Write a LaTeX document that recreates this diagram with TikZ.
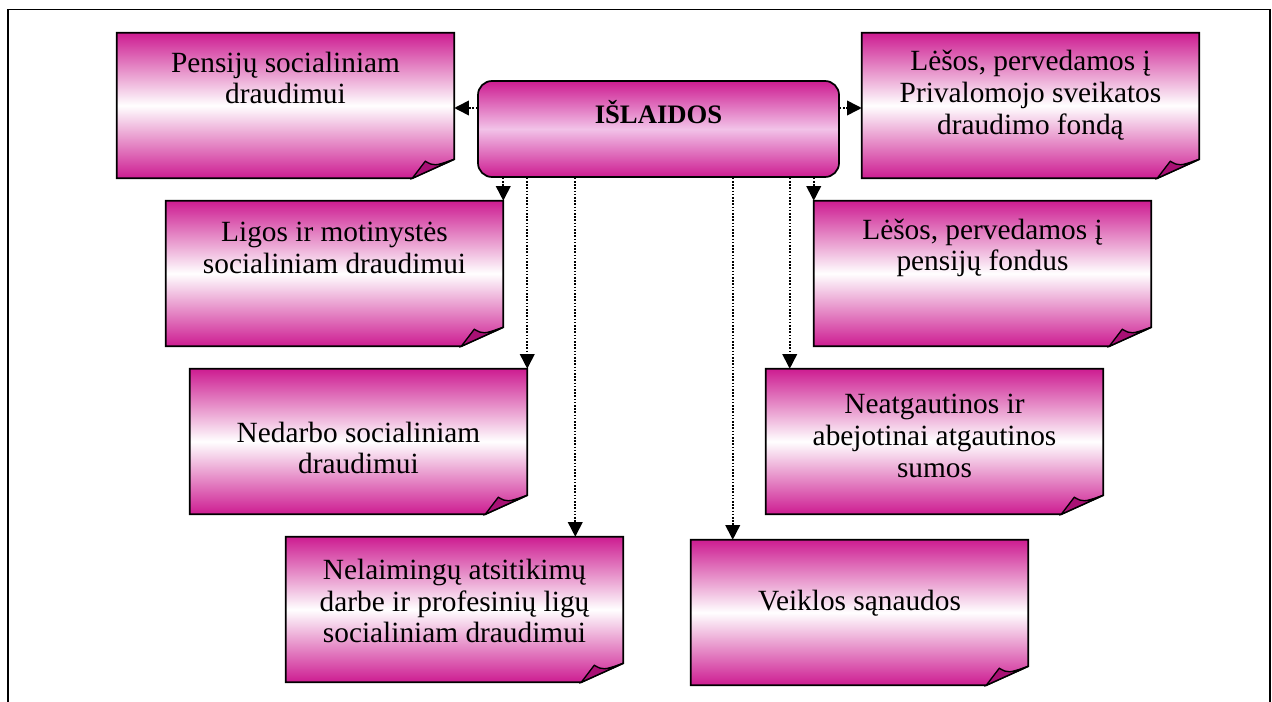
\documentclass[tikz,border=0pt]{standalone}
\usepackage{fontspec}
\setmainfont{Liberation Serif}
\usetikzlibrary{arrows.meta,shapes}
\usetikzlibrary{calc}
\definecolor{pinkedge}{RGB}{205,28,145}
\definecolor{pinkfold}{RGB}{168,16,116}
\definecolor{pinkmid}{RGB}{242,194,232}
\tikzstyle{box}=[rectangle,minimum width=252.75pt,minimum height=108.75pt,inner sep=0pt]
\tikzstyle{boxfill}=[draw=black,line width=1.3pt,top color=pinkedge,bottom color=pinkedge,middle color=white]
\tikzstyle{fold}=[draw=black,line width=1pt,fill=pinkfold]
\tikzstyle{txt}=[align=center,inner sep=0pt,font=\fontsize{22}{23.8}\selectfont]
\tikzstyle{conn}=[draw,line width=1.2pt,dash pattern=on 1.2pt off 1.2pt,-{Triangle[width=11pt,length=11pt]}]

\begin{document}
\begin{tikzpicture}[x=0.75pt,y=-0.75pt]
\useasboundingbox (0,0) rectangle (1272,702);

% frame
\draw[line width=1.2pt] (8,702) -- (8,9.5) -- (1270,9.5) -- (1270,702);

% main box
\node[rectangle,rounded corners=10.5pt,minimum width=270.75pt,minimum height=72pt,draw=black,line width=1.3pt,
      top color=pinkedge,bottom color=pinkedge,middle color=pinkmid] (islaidos) at (658.5,129) {};
\node[txt,font=\fontsize{20}{23.8}\selectfont\bfseries] (islaidos-t) at ($(islaidos)+(0,-17)$) {IŠLAIDOS};

% boxes with folded corner
\foreach \l/\t/\name in {117/33/pens, 862/33/sveik, 166/201/ligos, 814/201/fond,
                         190/369/nedarb, 766/369/neatg, 286/537/nelaim, 691/540/veikl}
{
  \node[box] (\name) at (\l+168.5,\t+72.5) {};
  \path[boxfill] (\name.north west) -- (\name.north east) -- ($(\name.south east)+(0,-19)$)
        -- ($(\name.south east)+(-42,0)$) -- (\name.south west) -- cycle;
  \path[fold] ($(\name.south east)+(-42,0)$) -- ($(\name.south east)+(-29,-17)$)
        .. controls ($(\name.south east)+(-20,-12)$) .. ($(\name.south east)+(0,-19)$) -- cycle;
}

% texts
\foreach \name/\dy/\words in {pens/-27.5/{Pensijų socialiniam\\draudimui},
        sveik/-10.5/{Lėšos, pervedamos į\\Privalomojo sveikatos\\draudimo fondą},
        ligos/-25.5/{Ligos ir motinystės\\socialiniam draudimui},
        fond/-25.5/{Lėšos, pervedamos į\\pensijų fondus},
        nedarb/6.5/{Nedarbo socialiniam\\draudimui},
        neatg/-5.5/{Neatgautinos ir\\abejotinai atgautinos\\sumos},
        nelaim/-8.5/{Nelaimingų atsitikimų\\darbe ir profesinių ligų\\socialiniam draudimui},
        veikl/-9.5/{Veiklos sąnaudos}}
  \node[txt] (\name-t) at ($(\name)+(0,\dy)$) {\words};

% connectors
\coordinate (lft) at ($(islaidos.west)+(0,-21)$);
\coordinate (rgt) at ($(islaidos.east)+(0,-21)$);
\draw[conn] (lft) -- (lft -| pens.east);
\draw[conn] (rgt) -- (rgt -| sveik.west);

\foreach \dest/\dx in {ligos.north east/0pt, nedarb.north east/0pt, nelaim.north east/-36pt,
                       veikl.north west/31.5pt, neatg.north west/18pt, fond.north west/0pt}
  \draw[conn] ([xshift=\dx]\dest |- islaidos.south) -- ([xshift=\dx]\dest);

\end{tikzpicture}
\end{document}
